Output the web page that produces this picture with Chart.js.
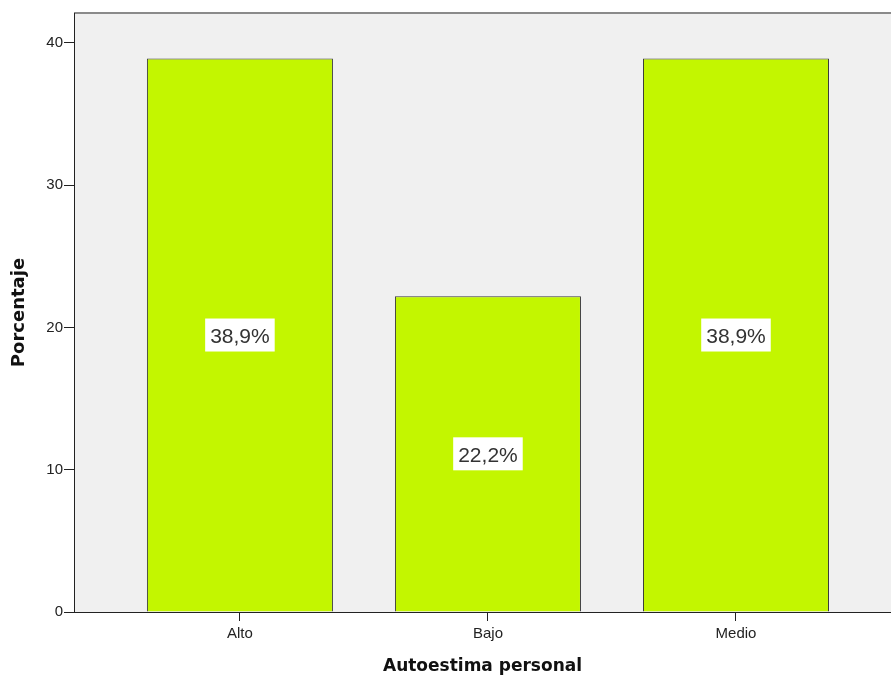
<!DOCTYPE html>
<html>
<head>
<meta charset="utf-8">
<script src="https://cdn.jsdelivr.net/npm/chart.js@4.4.1/dist/chart.umd.min.js"></script>
<style>
  html, body { margin: 0; padding: 0; background: #fff; overflow: hidden; }
  #wrap { width: 891px; height: 680px; position: relative; }
</style>
</head>
<body>
<div id="wrap"><canvas id="chart" width="891" height="680"></canvas></div>
<script>
'use strict';

// ── Data ────────────────────────────────────────────────────
const categories = ['Alto', 'Bajo', 'Medio'];
const percentages = [38.9, 22.2, 38.9];
const yTicks = [0, 10, 20, 30, 40];

const FONT = '"Liberation Sans", Arial, sans-serif';
const TITLE_FONT = '"DejaVu Sans", Verdana, sans-serif';
const PLOT_BG = '#f0f0f0';
const BAR_FILL = '#c3f600';

// Plot background + top frame line
const plotBg = {
  id: 'plotBg',
  beforeDraw(chart) {
    const { ctx, chartArea: a } = chart;
    ctx.save();
    ctx.fillStyle = PLOT_BG;
    ctx.fillRect(a.left, a.top, a.right - a.left, a.bottom - a.top);
    ctx.strokeStyle = '#8a8a8a';
    ctx.lineWidth = 2;
    ctx.beginPath();
    ctx.moveTo(a.left, a.top);
    ctx.lineTo(a.right, a.top);
    ctx.stroke();
    ctx.restore();
  }
};

// White boxed labels in the middle of each bar
const barLabels = {
  id: 'barLabels',
  afterDatasetsDraw(chart) {
    const { ctx } = chart;
    const meta = chart.getDatasetMeta(0);
    ctx.save();
    ctx.font = '21px ' + FONT;
    ctx.textAlign = 'center';
    ctx.textBaseline = 'middle';
    meta.data.forEach((bar, i) => {
      const txt = percentages[i].toFixed(1).replace('.', ',') + '%';
      const cx = bar.x;
      const cy = (bar.y + bar.base) / 2;
      const w = ctx.measureText(txt).width + 10;
      const h = 33;
      ctx.fillStyle = '#ffffff';
      ctx.fillRect(cx - w / 2, cy - h / 2, w, h);
      ctx.fillStyle = '#333333';
      ctx.fillText(txt, cx, cy + 2.5);
    });
    ctx.restore();
  }
};

new Chart(document.getElementById('chart').getContext('2d'), {
  type: 'bar',
  data: {
    datasets: [{
      data: percentages.map((v, i) => ({ x: i, y: v })),
      backgroundColor: BAR_FILL,
      borderColor: '#3a3a3a',
      borderWidth: 1,
      barPercentage: 0.75,
      categoryPercentage: 1,
    }]
  },
  options: {
    responsive: false,
    animation: false,
    layout: { padding: { top: 13, right: 0, left: 0, bottom: 0 } },
    plugins: { legend: { display: false }, tooltip: { enabled: false } },
    scales: {
      x: {
        type: 'linear',
        offset: false,
        min: -0.669,
        max: 2.625,
        afterBuildTicks: s => { s.ticks = categories.map((c, i) => ({ value: i })); },
        afterFit: s => { s.height = 68; },
        grid: { display: true, offset: false, drawOnChartArea: false, drawTicks: true, tickLength: 9, color: '#222', lineWidth: 1 },
        border: { display: true, color: '#222', width: 1 },
        ticks: {
          color: '#222',
          font: { family: FONT, size: 15 },
          padding: 4,
          maxRotation: 0,
          callback: v => categories[v] ?? '',
        },
        title: {
          display: true,
          text: 'Autoestima personal',
          color: '#111',
          font: { family: TITLE_FONT, size: 17, weight: 'bold' },
          padding: { top: 0, bottom: 3 },
        }
      },
      y: {
        min: 0,
        max: 42.1,
        afterBuildTicks: s => { s.ticks = yTicks.map(v => ({ value: v })); },
        afterFit: s => { s.width = 74; },
        grid: { display: true, drawOnChartArea: false, drawTicks: true, tickLength: 10, color: '#222', lineWidth: 1 },
        border: { display: true, color: '#222', width: 1 },
        ticks: {
          color: '#222',
          font: { family: FONT, size: 15 },
          padding: 1,
        },
        title: {
          display: true,
          text: 'Porcentaje',
          color: '#111',
          font: { family: TITLE_FONT, size: 18, weight: 'bold' },
          padding: { top: 9, bottom: 0 },
        }
      }
    }
  },
  plugins: [plotBg, barLabels]
});
</script>
</body>
</html>
